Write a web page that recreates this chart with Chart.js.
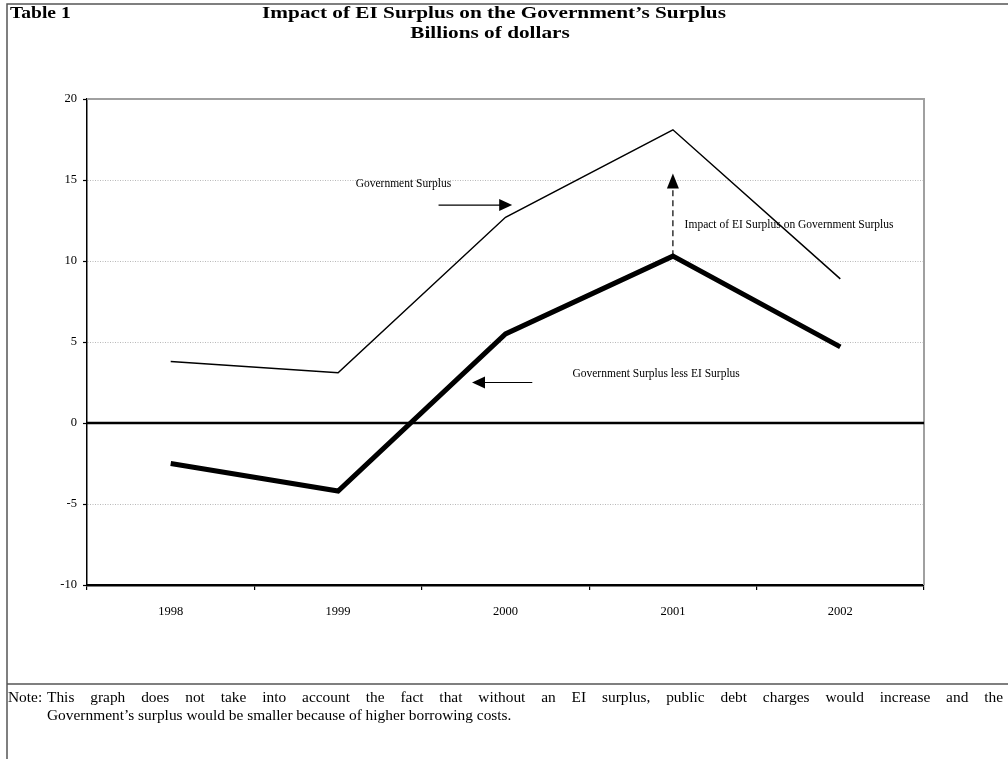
<!DOCTYPE html>
<html>
<head>
<meta charset="utf-8">
<script src="https://cdn.jsdelivr.net/npm/chart.js@4/dist/chart.umd.min.js"></script>
<style>
html,body{margin:0;padding:0;background:#fff;}
#wrap{position:relative;width:1008px;height:759px;}
</style>
</head>
<body>
<div id="wrap"><canvas id="c" width="1008" height="759"></canvas></div>
<script>
const categories = ['1998', '1999', '2000', '2001', '2002'];
const governmentSurplus = [3.8, 3.1, 12.7, 18.1, 8.9];
const surplusLessEI = [-2.5, -4.2, 5.5, 10.3, 4.7];
const yTicks = [-10, -5, 0, 5, 10, 15, 20];
const titleLines = ['Impact of EI Surplus on the Government\u2019s Surplus', 'Billions of dollars'];
const tableLabel = 'Table 1';
const noteLabel = 'Note:';
const noteLines = ['This graph does not take into account the fact that without an EI surplus, public debt charges would increase and the', 'Government\u2019s surplus would be smaller because of higher borrowing costs.'];
const labelGov = 'Government Surplus';
const labelLess = 'Government Surplus less EI Surplus';
const labelImpact = 'Impact of EI Surplus on Government Surplus';

const SERIF = '"Liberation Serif", "DejaVu Serif", serif';

function arrowHead(ctx, x, y, dx, dy, len, half) {
  const n = Math.hypot(dx, dy); const ux = dx / n, uy = dy / n;
  ctx.beginPath();
  ctx.moveTo(x, y);
  ctx.lineTo(x - ux * len - uy * half, y - uy * len + ux * half);
  ctx.lineTo(x - ux * len + uy * half, y - uy * len - ux * half);
  ctx.closePath();
  ctx.fill();
}

function stretchText(ctx, t, x, y, sx) {
  ctx.save();
  ctx.translate(x, y);
  ctx.scale(sx, 1);
  ctx.fillText(t, 0, 0);
  ctx.restore();
}

const decor = {
  id: 'decor',
  beforeDatasetsDraw(chart) {
    const ctx = chart.ctx, a = chart.chartArea, y = chart.scales.y;
    ctx.save();
    ctx.strokeStyle = '#a0a0a0'; ctx.lineWidth = 2;
    ctx.beginPath();
    ctx.moveTo(a.left, a.top); ctx.lineTo(a.right, a.top); ctx.lineTo(a.right, a.bottom);
    ctx.stroke();
    const z = y.getPixelForValue(0);
    ctx.strokeStyle = '#000'; ctx.lineWidth = 2.5;
    ctx.beginPath(); ctx.moveTo(a.left, z); ctx.lineTo(a.right, z); ctx.stroke();
    ctx.restore();
  },
  afterDraw(chart) {
    const ctx = chart.ctx, x = chart.scales.x, y = chart.scales.y;
    const W = chart.width, H = chart.height;
    ctx.save();
    ctx.strokeStyle = '#555'; ctx.lineWidth = 1.5;
    ctx.beginPath();
    ctx.moveTo(W, 4); ctx.lineTo(7, 4); ctx.lineTo(7, H);
    ctx.moveTo(7, 684); ctx.lineTo(W, 684);
    ctx.stroke();
    ctx.fillStyle = '#000';
    ctx.font = 'bold 17px ' + SERIF;
    ctx.textBaseline = 'middle';
    ctx.textAlign = 'left';
    stretchText(ctx, tableLabel, 10, 14, 1.15);
    ctx.textAlign = 'center';
    stretchText(ctx, titleLines[0], 494, 14, 1.25);
    stretchText(ctx, titleLines[1], 490, 34, 1.25);

    const sxN = 1.1;
    ctx.font = '14px ' + SERIF;
    ctx.textAlign = 'left';
    stretchText(ctx, noteLabel, 8, 698, sxN);
    const words = noteLines[0].split(' ');
    const target = 1003 - 47;
    const wordsW = words.reduce((s, w) => s + ctx.measureText(w).width * sxN, 0);
    const gap = (target - wordsW) / (words.length - 1);
    let cx = 47;
    words.forEach(w => { stretchText(ctx, w, cx, 698, sxN); cx += ctx.measureText(w).width * sxN + gap; });
    stretchText(ctx, noteLines[1], 47, 716, sxN);

    ctx.font = '11.5px ' + SERIF;
    ctx.textAlign = 'left';
    const step = x.getPixelForValue(1) - x.getPixelForValue(0);
    const px = (i) => x.getPixelForValue(0) + i * step;
    ctx.fillText(labelGov, px(1.105), y.getPixelForValue(14.75));
    const ay1 = y.getPixelForValue(13.45);
    ctx.lineWidth = 1.2; ctx.strokeStyle = '#000';
    ctx.beginPath(); ctx.moveTo(px(1.60), ay1); ctx.lineTo(px(1.98), ay1); ctx.stroke();
    arrowHead(ctx, px(2.04), ay1, 1, 0, 13, 6);
    ctx.fillText(labelLess, px(2.40), y.getPixelForValue(3.0));
    const ay2 = y.getPixelForValue(2.5);
    ctx.beginPath(); ctx.moveTo(px(2.16), ay2); ctx.lineTo(px(1.86), ay2); ctx.stroke();
    arrowHead(ctx, px(1.80), ay2, -1, 0, 13, 6);
    const xi = x.getPixelForValue(3);
    ctx.setLineDash([6, 4]);
    ctx.beginPath(); ctx.moveTo(xi, y.getPixelForValue(surplusLessEI[3])); ctx.lineTo(xi, y.getPixelForValue(14.5)); ctx.stroke();
    ctx.setLineDash([]);
    arrowHead(ctx, xi, y.getPixelForValue(15.4), 0, -1, 15, 6);
    ctx.fillText(labelImpact, px(3.07), y.getPixelForValue(12.2));
    ctx.restore();
  }
};

new Chart(document.getElementById('c'), {
  type: 'line',
  data: {
    labels: categories,
    datasets: [
      { label: labelGov, data: governmentSurplus, borderColor: '#000', borderWidth: 1.5, pointRadius: 0, tension: 0, fill: false },
      { label: labelLess, data: surplusLessEI, borderColor: '#000', borderWidth: 5, pointRadius: 0, tension: 0, fill: false }
    ]
  },
  options: {
    responsive: false,
    animation: false,
    events: [],
    layout: { padding: { left: 0, top: 99, right: 84, bottom: 0 } },
    plugins: { legend: { display: false }, title: { display: false }, tooltip: { enabled: false } },
    scales: {
      x: {
        type: 'category',
        offset: true,
        afterFit(s) { s.height = 174; },
        grid: { offset: true, drawOnChartArea: false, drawTicks: true, tickLength: 5, color: '#000', lineWidth: 1.2 },
        border: { display: true, color: '#000', width: 2.5 },
        ticks: { color: '#000', font: { family: SERIF, size: 12.5 }, padding: 14, maxRotation: 0 }
      },
      y: {
        min: -10, max: 20,
        afterFit(s) { s.width = 87; },
        afterBuildTicks(s) { s.ticks = yTicks.map(v => ({ value: v })); },
        grid: {
          drawTicks: true, tickLength: 4, tickColor: '#000', tickWidth: 1.2,
          color: (c) => (c.tick && [5, 10, 15, -5].includes(c.tick.value)) ? '#b8b8b8' : 'rgba(0,0,0,0)',
          lineWidth: 1
        },
        border: { display: true, color: '#000', width: 1.5, dash: [1, 1.5] },
        ticks: { color: '#000', font: { family: SERIF, size: 12.5 }, padding: 6 }
      }
    }
  },
  plugins: [decor]
});
</script>
</body>
</html>
